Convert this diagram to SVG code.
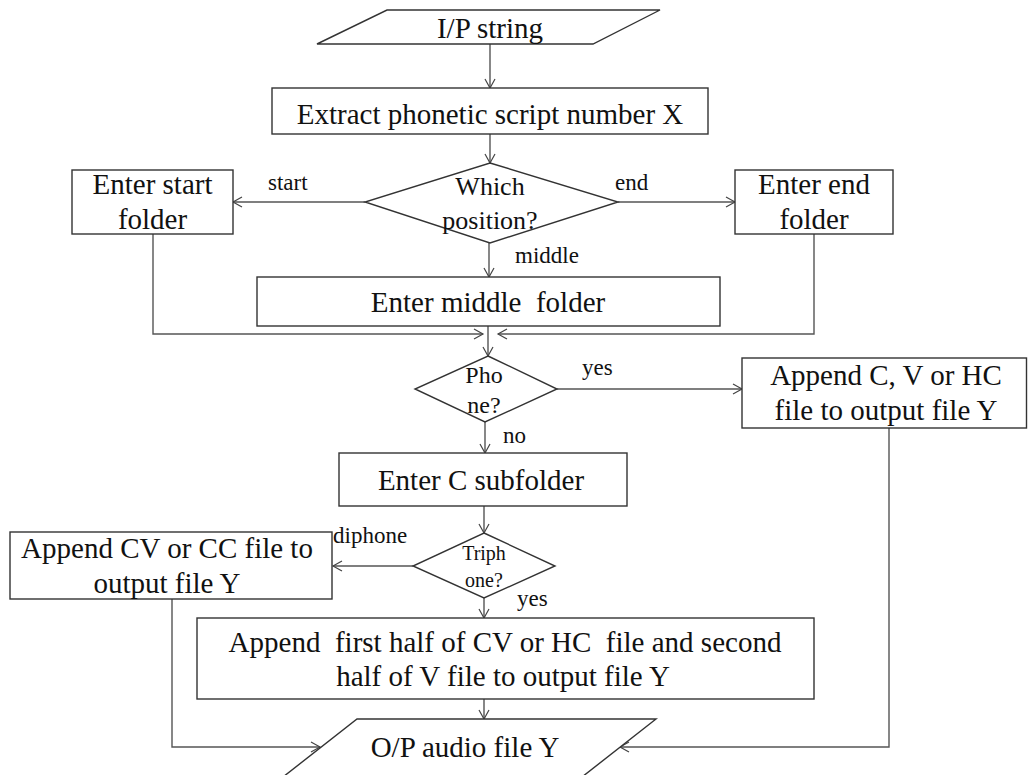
<svg xmlns="http://www.w3.org/2000/svg" width="1028" height="775" viewBox="0 0 1028 775">
<defs>
<marker id="arr" markerUnits="userSpaceOnUse" markerWidth="12" markerHeight="12" refX="10" refY="6" orient="auto" overflow="visible">
<path d="M1,1 L10,6 L1,11" fill="none" stroke="#444" stroke-width="1.2"/>
</marker>
<style>
.shape{fill:#fff;stroke:#333;stroke-width:1.4}
.conn{fill:none;stroke:#555;stroke-width:1.4;marker-end:url(#arr)}
.t{font-family:"Liberation Serif","Times New Roman",serif;font-size:29px;fill:#111;text-anchor:middle}
.d{font-family:"Liberation Serif","Times New Roman",serif;font-size:26px;fill:#111;text-anchor:middle}
.lbl{font-family:"Liberation Serif","Times New Roman",serif;font-size:23px;fill:#111}
</style>
</defs>
<rect width="1028" height="775" fill="#fff"/>

<g id="connectors">
<line class="conn" x1="490" y1="44" x2="490" y2="88"/>
<line class="conn" x1="490" y1="134" x2="490" y2="163"/>
<line class="conn" x1="365" y1="202" x2="233" y2="202"/>
<line class="conn" x1="618" y1="202" x2="735" y2="202"/>
<line class="conn" x1="489" y1="243" x2="489" y2="277"/>
<line class="conn" x1="488" y1="326" x2="488" y2="356"/>
<polyline class="conn" points="153,234 153,334 483,334"/>
<polyline class="conn" points="814,234 814,334 498,334"/>
<line class="conn" x1="557" y1="389" x2="742" y2="389"/>
<line class="conn" x1="485" y1="422" x2="485" y2="453"/>
<line class="conn" x1="484" y1="506" x2="484" y2="533"/>
<line class="conn" x1="413" y1="566" x2="333" y2="566"/>
<line class="conn" x1="484" y1="598" x2="484" y2="618"/>
<line class="conn" x1="484" y1="699" x2="484" y2="719"/>
<polyline class="conn" points="172,599 172,747 320,747"/>
<polyline class="conn" points="889,428 889,747 620,747"/>
<text class="lbl" x="268" y="190">start</text>
<text class="lbl" x="615" y="190">end</text>
<text class="lbl" x="515" y="263">middle</text>
<text class="lbl" x="582" y="375">yes</text>
<text class="lbl" x="503" y="443">no</text>
<text class="lbl" x="333" y="543">diphone</text>
<text class="lbl" x="517" y="606">yes</text>
</g>

<g id="ip">
<polygon class="shape" points="387,10 660,10 593,44 317,44"/>
<text class="t" x="490" y="38">I/P string</text>
</g>

<g id="extract">
<rect class="shape" x="272" y="88" width="436" height="46"/>
<text class="t" x="490" y="124">Extract phonetic script number X</text>
</g>

<g id="which">
<polygon class="shape" points="490,163 618,202 490,243 365,202"/>
<text class="d" x="490" y="195">Which</text>
<text class="d" x="490" y="229">position?</text>
</g>

<g id="start">
<rect class="shape" x="72" y="170" width="161" height="64"/>
<text class="t" x="152.5" y="194">Enter start</text>
<text class="t" x="152.5" y="229">folder</text>
</g>

<g id="end">
<rect class="shape" x="735" y="170" width="158" height="64"/>
<text class="t" x="814" y="194">Enter end</text>
<text class="t" x="814" y="229">folder</text>
</g>

<g id="middle">
<rect class="shape" x="257" y="277" width="463" height="49"/>
<text class="t" x="488" y="312" xml:space="preserve">Enter middle  folder</text>
</g>

<g id="phone">
<polygon class="shape" points="488,356 557,389 485,422 415,389"/>
<text class="d" x="484" y="383" style="font-size:24px">Pho</text>
<text class="d" x="484" y="413" style="font-size:24px">ne?</text>
</g>

<g id="appendcvhc">
<rect class="shape" x="742" y="358" width="284.5" height="70"/>
<text class="t" x="886" y="385">Append C, V or HC</text>
<text class="t" x="886" y="420">file to output file Y</text>
</g>

<g id="enterc">
<rect class="shape" x="339" y="453" width="288" height="53"/>
<text class="t" x="481" y="490">Enter C subfolder</text>
</g>

<g id="triph">
<polygon class="shape" points="484,533 555,566 484,598 413,566"/>
<text class="d" x="484" y="560" style="font-size:20px">Triph</text>
<text class="d" x="484" y="587" style="font-size:20px">one?</text>
</g>

<g id="appendcvcc">
<rect class="shape" x="10" y="532" width="322" height="67"/>
<text class="t" x="167" y="558">Append CV or CC file to</text>
<text class="t" x="167" y="593">output file Y</text>
</g>

<g id="appendhalf">
<rect class="shape" x="197" y="618" width="617" height="81"/>
<text class="t" x="505" y="652" xml:space="preserve">Append  first half of CV or HC  file and second</text>
<text class="t" x="503" y="686">half of V file to output file Y</text>
</g>

<g id="op">
<polygon class="shape" points="357,719 656,719 582,777 283,777"/>
<text class="t" x="465" y="757">O/P audio file Y</text>
</g>
</svg>
